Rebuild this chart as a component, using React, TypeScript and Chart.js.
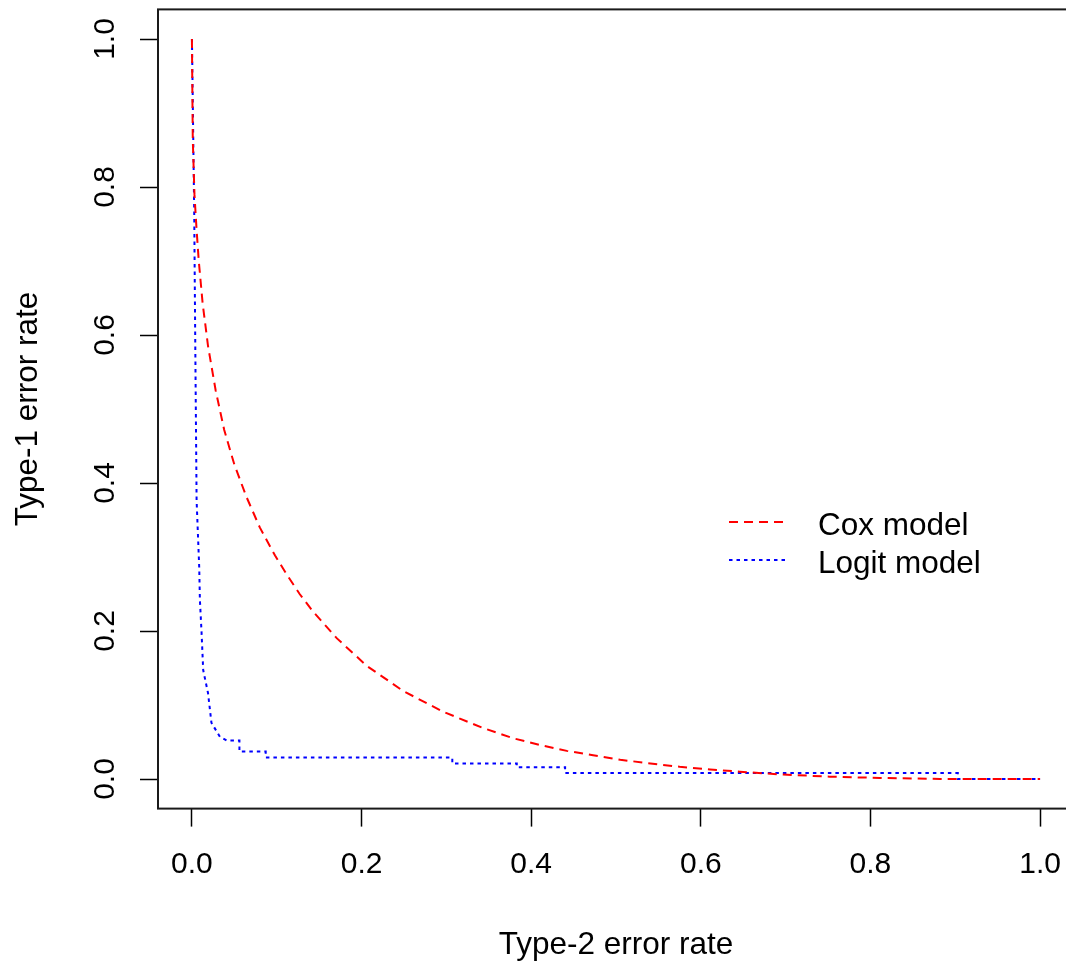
import React, { useEffect, useRef } from 'react';
import { Chart, registerables } from 'chart.js';
Chart.register(...registerables);

const xTicks = [0, 0.2, 0.4, 0.6, 0.8, 1.0];
const yTicks = [0, 0.2, 0.4, 0.6, 0.8, 1.0];
const xTickLabels = ['0.0', '0.2', '0.4', '0.6', '0.8', '1.0'];
const yTickLabels = ['0.0', '0.2', '0.4', '0.6', '0.8', '1.0'];
const xTitle = 'Type-2 error rate';
const yTitle = 'Type-1 error rate';
const seriesNames = ['Cox model', 'Logit model'];

const coxX = [0, 0.001, 0.003, 0.0055, 0.008, 0.0126, 0.019, 0.028, 0.038, 0.050, 0.064, 0.080, 0.098, 0.112, 0.127, 0.143, 0.171, 0.206, 0.249, 0.296, 0.343, 0.379, 0.410, 0.442, 0.473, 0.505, 0.537, 0.575, 0.611, 0.646, 0.697, 0.752, 0.811, 0.882, 1.0];
const coxY = [1.0, 0.864, 0.79, 0.742, 0.701, 0.643, 0.585, 0.525, 0.472, 0.425, 0.382, 0.340, 0.302, 0.276, 0.250, 0.226, 0.190, 0.153, 0.119, 0.091, 0.069, 0.055, 0.046, 0.038, 0.032, 0.026, 0.0215, 0.0165, 0.013, 0.0098, 0.006, 0.0032, 0.0014, 0.0, 0.0];

const logitX = [0, 0.0006, 0.0027, 0.004, 0.0055, 0.0086, 0.0094, 0.0114, 0.0133, 0.019, 0.023, 0.033, 0.041, 0.056, 0.056, 0.087, 0.087, 0.307, 0.307, 0.383, 0.383, 0.44, 0.44, 0.903, 0.903, 1.0];
const logitY = [1.0, 0.95, 0.765, 0.58, 0.377, 0.286, 0.242, 0.197, 0.147, 0.116, 0.076, 0.057, 0.052, 0.052, 0.037, 0.037, 0.029, 0.029, 0.021, 0.021, 0.016, 0.016, 0.008, 0.008, 0, 0];

const TICK_FONT = '30px "Liberation Sans", Arial, sans-serif';
const TITLE_FONT = '31.5px "Liberation Sans", Arial, sans-serif';

const overlay = {
  id: 'rOverlay',
  afterDraw(chart: any) {
    const { ctx, chartArea } = chart;
    const xs = chart.scales.x;
    const ys = chart.scales.y;
    ctx.save();
    ctx.strokeStyle = '#1a1a1a';
    ctx.lineWidth = 2;
    ctx.strokeRect(chartArea.left, chartArea.top, chartArea.right - chartArea.left, chartArea.bottom - chartArea.top);
    ctx.fillStyle = '#000';
    ctx.font = TICK_FONT;
    ctx.textAlign = 'center';
    ctx.textBaseline = 'alphabetic';
    xTicks.forEach((v, i) => {
      ctx.fillText(xTickLabels[i], xs.getPixelForValue(v), 873);
    });
    yTicks.forEach((v, i) => {
      ctx.save();
      ctx.translate(114, ys.getPixelForValue(v));
      ctx.rotate(-Math.PI / 2);
      ctx.fillText(yTickLabels[i], 0, 0);
      ctx.restore();
    });
    ctx.font = TITLE_FONT;
    ctx.fillText(xTitle, (chartArea.left + chartArea.right) / 2, 954);
    ctx.save();
    ctx.translate(37, (chartArea.top + chartArea.bottom) / 2);
    ctx.rotate(-Math.PI / 2);
    ctx.fillText(yTitle, 0, 0);
    ctx.restore();
    const ds = chart.data.datasets;
    const legY = [522, 560];
    const legTextY = [535, 573];
    ds.forEach((d: any, i: number) => {
      ctx.save();
      ctx.strokeStyle = d.borderColor;
      ctx.lineWidth = d.borderWidth;
      ctx.setLineDash(d.borderDash);
      ctx.beginPath();
      ctx.moveTo(729, legY[i]);
      ctx.lineTo(788, legY[i]);
      ctx.stroke();
      ctx.restore();
      ctx.textAlign = 'left';
      ctx.fillText(d.label, 818, legTextY[i]);
    });
    ctx.restore();
  },
};

export default function App() {
  const ref = useRef<HTMLCanvasElement | null>(null);
  useEffect(() => {
    if (!ref.current) return;
    const chart = new Chart(ref.current, {
      type: 'line',
      data: {
        datasets: [
          {
            label: seriesNames[0],
            data: coxX.map((x, i) => ({ x, y: coxY[i] })),
            borderColor: '#FF0000',
            borderWidth: 2,
            borderDash: [9, 6],
            pointRadius: 0,
            fill: false,
            tension: 0,
          },
          {
            label: seriesNames[1],
            data: logitX.map((x, i) => ({ x, y: logitY[i] })),
            borderColor: '#0000FF',
            borderWidth: 2,
            borderDash: [3.5, 4],
            pointRadius: 0,
            fill: false,
            tension: 0,
          },
        ],
      },
      options: {
        animation: false,
        responsive: false,
        layout: { padding: { top: 9.4, right: 6, bottom: 0, left: 0 } },
        plugins: { legend: { display: false }, tooltip: { enabled: false } },
        scales: {
          x: {
            type: 'linear',
            min: -0.04,
            max: 1.04,
            afterBuildTicks: (s: any) => { s.ticks = xTicks.map((v) => ({ value: v })); },
            afterFit: (s: any) => { s.height = 964 - 808.6; },
            ticks: { display: false },
            grid: { display: true, drawOnChartArea: false, drawTicks: true, tickLength: 18, tickColor: '#000', tickWidth: 1.5 },
            border: { display: false },
          },
          y: {
            type: 'linear',
            min: -0.04,
            max: 1.04,
            afterBuildTicks: (s: any) => { s.ticks = yTicks.map((v) => ({ value: v })); },
            afterFit: (s: any) => { s.width = 158; },
            ticks: { display: false },
            grid: { display: true, drawOnChartArea: false, drawTicks: true, tickLength: 18, tickColor: '#000', tickWidth: 1.5 },
            border: { display: false },
          },
        },
      } as any,
      plugins: [overlay],
    });
    return () => chart.destroy();
  }, []);
  return (
    <div style={{ position: 'absolute', left: 0, top: 0, width: 1066, height: 964, overflow: 'hidden', background: '#fff' }}>
      <canvas ref={ref} width={1080} height={964} style={{ display: 'block' }} />
    </div>
  );
}
